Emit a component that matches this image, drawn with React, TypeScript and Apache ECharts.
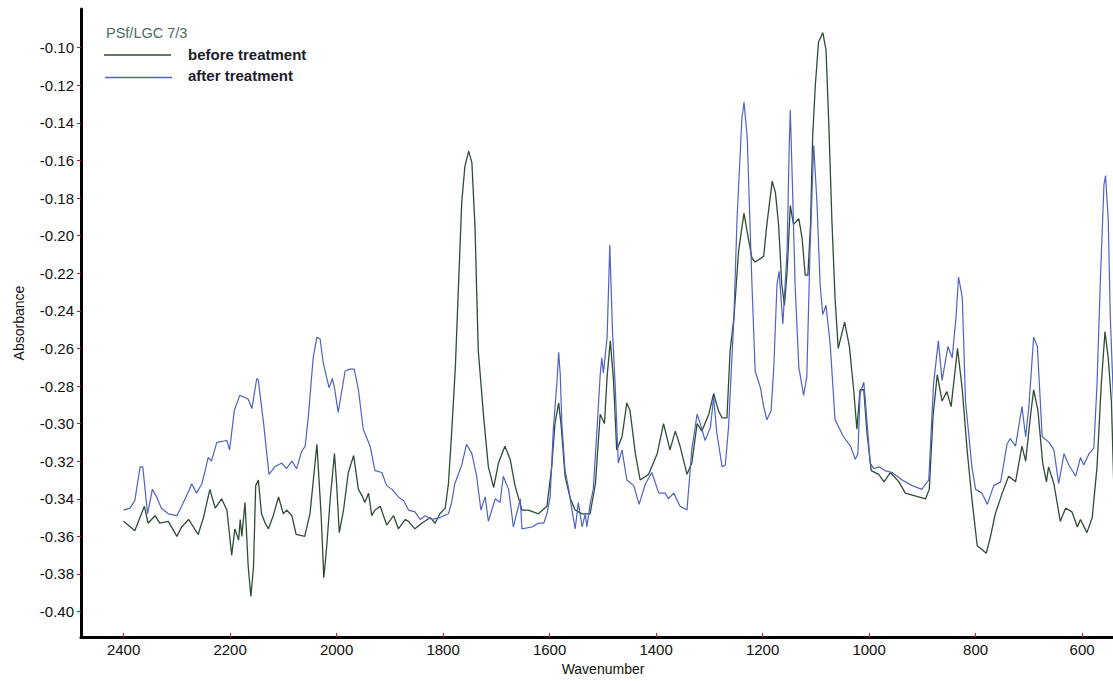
import React, { useEffect, useRef } from "react";
import * as echarts from "echarts";

const seriesNames = ["before treatment", "after treatment"];
const legendTitle = "PSf/LGC 7/3";
const xAxisTitle = "Wavenumber";
const yAxisTitle = "Absorbance";

const wavenumberTicks = [2400, 2200, 2000, 1800, 1600, 1400, 1200, 1000, 800, 600];
const absorbanceTicks = [-0.4, -0.38, -0.36, -0.34, -0.32, -0.3, -0.28, -0.26, -0.24, -0.22, -0.2, -0.18, -0.16, -0.14, -0.12, -0.1];

const beforeTreatment: [number, number][] = [
  [2400,-0.352],[2379,-0.357],[2361,-0.344],[2354,-0.353],[2341,-0.349],[2332,-0.353],[2316,-0.352],[2300,-0.360],[2291,-0.355],[2278,-0.351],
  [2260,-0.359],[2250,-0.350],[2238,-0.335],[2228,-0.345],[2216,-0.340],[2206,-0.346],[2197,-0.370],[2191,-0.356],[2184,-0.362],[2181,-0.351],
  [2178,-0.360],[2172,-0.342],[2166,-0.376],[2161,-0.392],[2156,-0.376],[2152,-0.333],[2147,-0.330],[2141,-0.348],[2134,-0.353],[2128,-0.356],
  [2119,-0.349],[2109,-0.339],[2100,-0.348],[2094,-0.346],[2084,-0.349],[2076,-0.359],[2060,-0.360],[2050,-0.348],[2037,-0.311],[2029,-0.349],
  [2024,-0.382],[2019,-0.367],[2012,-0.340],[2004,-0.316],[2000,-0.332],[1995,-0.358],[1987,-0.346],[1978,-0.326],[1968,-0.317],[1959,-0.335],
  [1951,-0.339],[1947,-0.342],[1940,-0.337],[1934,-0.349],[1928,-0.346],[1918,-0.344],[1906,-0.354],[1893,-0.349],[1884,-0.356],[1871,-0.351],
  [1865,-0.352],[1853,-0.356],[1840,-0.353],[1824,-0.350],[1815,-0.353],[1806,-0.348],[1796,-0.345],[1790,-0.332],[1784,-0.305],[1777,-0.270],
  [1771,-0.226],[1765,-0.182],[1759,-0.163],[1752,-0.155],[1746,-0.161],[1740,-0.196],[1734,-0.261],[1724,-0.296],[1715,-0.323],[1705,-0.334],
  [1696,-0.321],[1684,-0.312],[1674,-0.319],[1665,-0.333],[1652,-0.346],[1640,-0.346],[1621,-0.348],[1605,-0.344],[1596,-0.323],[1590,-0.300],
  [1583,-0.289],[1578,-0.302],[1571,-0.328],[1561,-0.340],[1552,-0.346],[1539,-0.348],[1524,-0.348],[1514,-0.332],[1505,-0.295],[1497,-0.300],
  [1492,-0.275],[1486,-0.256],[1480,-0.277],[1474,-0.314],[1464,-0.307],[1455,-0.289],[1449,-0.293],[1439,-0.316],[1430,-0.330],[1414,-0.327],
  [1398,-0.316],[1386,-0.300],[1374,-0.314],[1364,-0.304],[1355,-0.312],[1342,-0.327],[1333,-0.321],[1323,-0.300],[1314,-0.304],[1301,-0.295],
  [1292,-0.284],[1283,-0.293],[1276,-0.297],[1267,-0.297],[1261,-0.261],[1254,-0.244],[1245,-0.208],[1235,-0.188],[1229,-0.198],[1220,-0.212],
  [1214,-0.214],[1198,-0.211],[1192,-0.194],[1182,-0.171],[1176,-0.177],[1170,-0.194],[1164,-0.226],[1159,-0.237],[1154,-0.219],[1148,-0.184],
  [1142,-0.194],[1132,-0.191],[1126,-0.201],[1120,-0.221],[1115,-0.221],[1110,-0.194],[1106,-0.147],[1101,-0.120],[1095,-0.097],[1087,-0.092],
  [1081,-0.101],[1076,-0.138],[1070,-0.191],[1064,-0.233],[1058,-0.260],[1046,-0.246],[1037,-0.259],[1029,-0.282],[1023,-0.303],[1017,-0.282],
  [1010,-0.282],[1004,-0.305],[996,-0.325],[982,-0.327],[972,-0.331],[960,-0.326],[944,-0.331],[932,-0.337],[919,-0.338],[907,-0.339],
  [894,-0.340],[887,-0.335],[880,-0.296],[872,-0.274],[863,-0.288],[854,-0.283],[846,-0.291],[834,-0.260],[825,-0.282],[816,-0.314],
  [807,-0.340],[797,-0.365],[788,-0.367],[780,-0.369],[772,-0.360],[763,-0.348],[750,-0.337],[738,-0.328],[725,-0.331],[713,-0.312],
  [706,-0.320],[697,-0.296],[691,-0.282],[683,-0.293],[674,-0.321],[667,-0.331],[663,-0.323],[653,-0.332],[641,-0.352],[631,-0.345],
  [619,-0.347],[609,-0.355],[603,-0.351],[591,-0.358],[581,-0.350],[572,-0.323],[564,-0.279],[557,-0.251],[551,-0.265],[545,-0.288],
  [539,-0.348]
];

const afterTreatment: [number, number][] = [
  [2400,-0.346],[2388,-0.345],[2379,-0.341],[2369,-0.323],[2364,-0.323],[2355,-0.348],[2346,-0.335],[2338,-0.339],[2329,-0.345],[2316,-0.348],
  [2300,-0.349],[2291,-0.344],[2278,-0.336],[2272,-0.332],[2263,-0.337],[2253,-0.332],[2241,-0.318],[2235,-0.320],[2225,-0.310],[2206,-0.309],
  [2201,-0.314],[2192,-0.293],[2182,-0.285],[2173,-0.286],[2166,-0.287],[2159,-0.292],[2150,-0.276],[2147,-0.277],[2137,-0.300],[2127,-0.327],
  [2116,-0.323],[2103,-0.321],[2094,-0.324],[2084,-0.320],[2075,-0.324],[2066,-0.315],[2059,-0.312],[2053,-0.296],[2044,-0.265],[2037,-0.254],
  [2031,-0.255],[2025,-0.268],[2019,-0.275],[2014,-0.281],[2008,-0.276],[2004,-0.281],[1997,-0.294],[1984,-0.272],[1975,-0.271],[1967,-0.271],
  [1959,-0.282],[1950,-0.303],[1937,-0.312],[1928,-0.325],[1915,-0.326],[1906,-0.333],[1896,-0.335],[1884,-0.339],[1874,-0.341],[1865,-0.346],
  [1853,-0.347],[1843,-0.351],[1834,-0.349],[1821,-0.351],[1806,-0.350],[1790,-0.348],[1784,-0.342],[1778,-0.332],[1765,-0.322],[1756,-0.311],
  [1746,-0.316],[1737,-0.328],[1729,-0.346],[1721,-0.339],[1715,-0.352],[1702,-0.340],[1693,-0.342],[1687,-0.328],[1677,-0.335],[1668,-0.355],
  [1655,-0.340],[1652,-0.356],[1633,-0.355],[1621,-0.353],[1611,-0.353],[1605,-0.348],[1599,-0.339],[1593,-0.303],[1586,-0.277],[1583,-0.262],
  [1580,-0.274],[1577,-0.300],[1571,-0.325],[1564,-0.335],[1558,-0.346],[1552,-0.356],[1546,-0.342],[1539,-0.355],[1533,-0.348],[1530,-0.355],
  [1524,-0.343],[1518,-0.335],[1511,-0.303],[1505,-0.274],[1502,-0.265],[1499,-0.273],[1492,-0.254],[1487,-0.205],[1482,-0.250],[1477,-0.279],
  [1471,-0.321],[1464,-0.314],[1455,-0.330],[1442,-0.333],[1432,-0.343],[1420,-0.332],[1408,-0.326],[1395,-0.337],[1383,-0.337],[1377,-0.340],
  [1367,-0.337],[1355,-0.344],[1342,-0.346],[1333,-0.314],[1323,-0.295],[1317,-0.300],[1308,-0.309],[1298,-0.302],[1292,-0.286],[1286,-0.305],
  [1276,-0.323],[1270,-0.322],[1264,-0.302],[1254,-0.244],[1248,-0.191],[1239,-0.138],[1235,-0.129],[1229,-0.147],[1220,-0.226],[1214,-0.272],
  [1204,-0.281],[1198,-0.291],[1192,-0.298],[1184,-0.293],[1179,-0.270],[1173,-0.226],[1169,-0.219],[1162,-0.247],[1154,-0.208],[1150,-0.152],
  [1148,-0.133],[1144,-0.173],[1139,-0.226],[1132,-0.270],[1123,-0.285],[1117,-0.275],[1111,-0.208],[1104,-0.152],[1098,-0.182],[1092,-0.226],
  [1087,-0.242],[1081,-0.237],[1073,-0.258],[1064,-0.298],[1048,-0.307],[1035,-0.312],[1026,-0.319],[1021,-0.316],[1017,-0.284],[1010,-0.278],
  [1007,-0.288],[998,-0.321],[991,-0.324],[982,-0.323],[970,-0.325],[957,-0.326],[938,-0.330],[919,-0.333],[901,-0.335],[888,-0.330],
  [879,-0.279],[870,-0.256],[863,-0.277],[852,-0.259],[844,-0.265],[837,-0.244],[832,-0.222],[825,-0.233],[819,-0.288],[807,-0.323],
  [800,-0.335],[788,-0.337],[778,-0.343],[766,-0.333],[753,-0.331],[741,-0.311],[735,-0.308],[725,-0.312],[713,-0.291],[706,-0.307],
  [700,-0.291],[691,-0.254],[684,-0.259],[675,-0.307],[662,-0.310],[653,-0.314],[644,-0.332],[634,-0.316],[625,-0.322],[612,-0.328],
  [603,-0.318],[597,-0.322],[587,-0.316],[578,-0.313],[572,-0.279],[566,-0.226],[559,-0.173],[556,-0.168],[551,-0.191],[547,-0.244],
  [540,-0.296],[534,-0.310]
];

const GREEN = "#2f4d34";
const BLUE = "#4f63c4";
const FONT = "'Liberation Sans', Arial, sans-serif";

export default function App() {
  const ref = useRef<HTMLDivElement>(null);

  useEffect(() => {
    if (!ref.current) return;
    const chart = echarts.init(ref.current, null, { renderer: "svg" });
    chart.setOption({
      animation: false,
      backgroundColor: "#ffffff",
      textStyle: { fontFamily: FONT },
      grid: { left: 81, right: 0, top: 9, bottom: 39 },
      xAxis: {
        type: "value",
        inverse: true,
        min: 542,
        max: 2480,
        name: xAxisTitle,
        nameLocation: "middle",
        nameGap: 23,
        nameTextStyle: { fontSize: 14, color: "#111", fontFamily: FONT, padding: [0, 0, 0, 12] },
        axisLine: { show: true, onZero: false, lineStyle: { color: "#000", width: 3 } },
        axisTick: { show: true, inside: true, length: 4, customValues: wavenumberTicks, lineStyle: { color: "#e01010", width: 1 } },
        axisLabel: {
          customValues: wavenumberTicks,
          fontSize: 15,
          color: "#111",
          margin: 5,
          fontFamily: FONT,
          formatter: (v: number) => String(Math.round(v))
        },
        splitLine: { show: false }
      },
      yAxis: {
        type: "value",
        min: -0.4136,
        max: -0.0794,
        name: yAxisTitle,
        nameLocation: "middle",
        nameRotate: 90,
        nameGap: 55,
        nameTextStyle: { fontSize: 14, color: "#111", fontFamily: FONT },
        axisLine: { show: true, onZero: false, lineStyle: { color: "#000", width: 3 } },
        axisTick: { show: true, inside: false, length: 4, customValues: absorbanceTicks, lineStyle: { color: "#e01010", width: 1 } },
        axisLabel: {
          customValues: absorbanceTicks,
          fontSize: 15,
          color: "#111",
          margin: 7,
          fontFamily: FONT,
          formatter: (v: number) => v.toFixed(2)
        },
        splitLine: { show: false }
      },
      graphic: [
        { type: "text", left: 106, top: 25, style: { text: legendTitle, fill: "#4d6b5a", font: `14.5px ${FONT}` } },
        { type: "line", shape: { x1: 104, y1: 55, x2: 171, y2: 55 }, style: { stroke: GREEN, lineWidth: 1.3 } },
        { type: "text", left: 188, top: 47, style: { text: seriesNames[0], fill: "#1c1c2c", font: `bold 15px ${FONT}` } },
        { type: "line", shape: { x1: 105, y1: 77.5, x2: 172, y2: 77.5 }, style: { stroke: BLUE, lineWidth: 1.3 } },
        { type: "text", left: 188, top: 68, style: { text: seriesNames[1], fill: "#1c1c2c", font: `bold 15px ${FONT}` } }
      ],
      series: [
        {
          name: seriesNames[0],
          type: "line",
          data: beforeTreatment,
          symbol: "none",
          clip: true,
          lineStyle: { color: GREEN, width: 1.3 },
          itemStyle: { color: GREEN }
        },
        {
          name: seriesNames[1],
          type: "line",
          data: afterTreatment,
          symbol: "none",
          clip: true,
          lineStyle: { color: BLUE, width: 1.2 },
          itemStyle: { color: BLUE }
        }
      ]
    });
    return () => chart.dispose();
  }, []);

  return (
    <div
      ref={ref}
      style={{ position: "fixed", left: 0, top: 0, width: 1113, height: 681, background: "#fff" }}
    />
  );
}
